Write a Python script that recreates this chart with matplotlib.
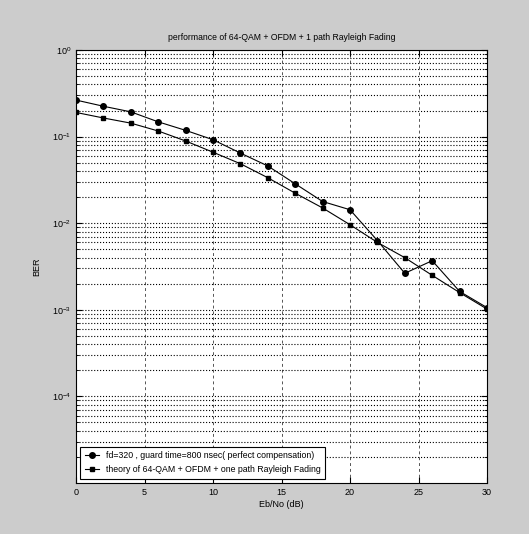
import matplotlib
matplotlib.use("Agg")
import matplotlib.pyplot as plt
from matplotlib.ticker import LogLocator, NullFormatter, FixedLocator

# Eb/No in dB
ebno = [0, 2, 4, 6, 8, 10, 12, 14, 16, 18, 20, 22, 24, 26, 28, 30]
# simulated BER, fd=320, guard time 800 ns
ber_sim = [0.264, 0.224, 0.193, 0.148, 0.118, 0.092, 0.0645, 0.0458, 0.0285, 0.0178,
           0.0143, 0.0063, 0.00264, 0.00369, 0.00163, 0.00106]
# theoretical BER
ber_theory = [0.19, 0.164, 0.143, 0.116, 0.089, 0.066, 0.0486, 0.0335, 0.0222, 0.015,
              0.0096, 0.006, 0.0040, 0.0025, 0.00158, 0.00102]
ytick_vals = [1e-4, 1e-3, 1e-2, 1e-1, 1e0]

label_sim = "fd=320 , guard time=800 nsec( perfect compensation)"
label_theory = "theory of 64-QAM + OFDM + one path Rayleigh Fading"

plt.rcParams['font.family'] = ['Liberation Sans', 'DejaVu Sans']
plt.rcParams['mathtext.fontset'] = 'custom'
plt.rcParams['mathtext.rm'] = 'Liberation Sans'

fig = plt.figure(figsize=(5.29, 5.34), dpi=100, facecolor='#cccccc')
ax = fig.add_axes([0.1437, 0.0955, 0.7769, 0.8109])

ax.semilogy(ebno, ber_sim, '-o', color='black', lw=0.8, ms=4, mfc='black', label=label_sim)
ax.semilogy(ebno, ber_theory, '-s', color='black', lw=0.8, ms=3.5, mfc='black', label=label_theory)

ax.set_xlim(0, 30)
ax.set_ylim(1e-5, 1)
ax.set_xticks(range(0, 31, 5))
ax.yaxis.set_major_locator(FixedLocator(ytick_vals))
ax.yaxis.set_minor_locator(LogLocator(base=10, subs=range(2, 10), numticks=10))
ax.yaxis.set_minor_formatter(NullFormatter())

ax.grid(True, which='major', axis='y', ls=':', color='black', lw=0.8)
ax.grid(True, which='minor', axis='y', ls=':', color='black', lw=0.8)
ax.grid(True, which='major', axis='x', ls=(0, (3, 3)), color='#555555', lw=0.7)
ax.tick_params(which='both', direction='in', top=True, right=True, labelsize=6.5)
ax.tick_params(which='major', length=4)
ax.tick_params(which='minor', length=2)

ax.set_title("performance of 64-QAM + OFDM + 1 path Rayleigh Fading", fontsize=6.2, pad=7)
ax.set_xlabel("Eb/No (dB)", fontsize=6.5, labelpad=2)
ax.set_ylabel("BER", fontsize=6.5, labelpad=8)

leg = ax.legend(loc='lower left', fontsize=6.3, frameon=True, fancybox=False,
                edgecolor='black', framealpha=1, borderaxespad=0.5,
                handlelength=1.6, labelspacing=0.6, borderpad=0.5)
leg.get_frame().set_linewidth(0.8)

fig.savefig("out.png", dpi=100, facecolor=fig.get_facecolor())
